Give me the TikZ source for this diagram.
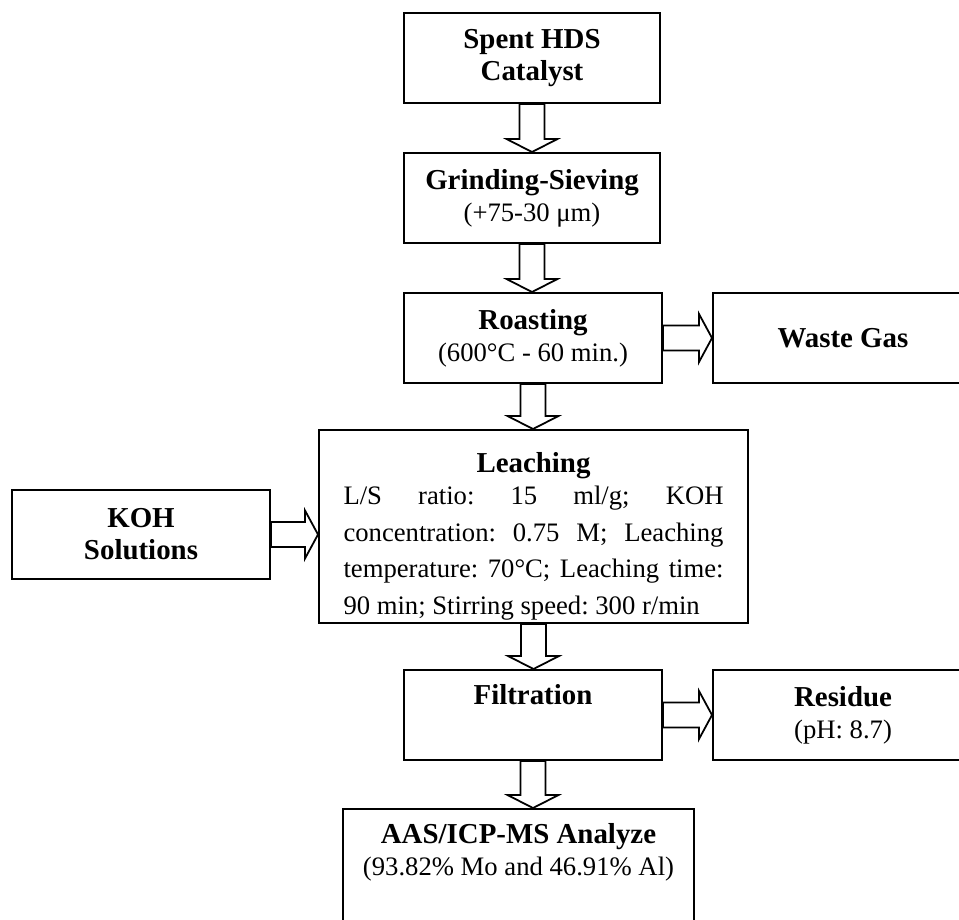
\documentclass[tikz,border=0pt]{standalone}
\usepackage{fontspec}
\setmainfont{Liberation Serif}
\usepackage{tikz}
\usetikzlibrary{calc}

\newcommand{\boxtitle}[1]{{\fontsize{13}{15}\selectfont\bfseries #1}}
\tolerance=10000
\hbadness=10000

\begin{document}
\frenchspacing
\begin{tikzpicture}[x=0.45pt,y=-0.45pt,
    stage/.style={draw,line width=0.9pt,align=center,inner sep=2pt,
        font=\fontsize{12}{14.4}\selectfont},
    blockarrow/.style={draw,line width=0.8pt,line join=miter}]

        \useasboundingbox (0,0) rectangle (959,919);
        \clip (0,0) rectangle (959,919);

        % ------------------------------------------------ main column
        \node[stage,minimum width=115.2pt,minimum height=40.5pt] (cat) at (532,58)
            {\boxtitle{Spent HDS}\\ \boxtitle{Catalyst}};
        \node[stage,minimum width=115.2pt,minimum height=40.5pt] (grind) at (532,198)
            {\boxtitle{Grinding-Sieving}\\ (+75-30 μm)};
        \node[stage,minimum width=116.1pt,minimum height=40.5pt] (roast) at (533,338)
            {\boxtitle{Roasting}\\ (600°C - 60 min.)};
        \node[stage,minimum width=193.05pt,minimum height=86.85pt,inner ysep=0pt] (leach) at (533.5,526.5)
            {\rule{0pt}{17.8pt}\boxtitle{Leaching}\\
             \parbox[t]{171pt}{\fontsize{12}{16.5}\selectfont
             L/S ratio: 15 ml/g; KOH\linebreak
             concentration: 0.75 M; Leaching\linebreak
             temperature: 70°C; Leaching time:\linebreak
             90 min; Stirring speed: 300 r/min}};
        \node[stage,minimum width=116.1pt,minimum height=40.5pt] (filt) at (533,715)
            {\boxtitle{Filtration}\\ \strut};
        \node[stage,anchor=north,minimum width=157.95pt,inner ysep=6.5pt] (aas) at (518.5,808)
            {\boxtitle{AAS/ICP-MS Analyze}\\ (93.82\% Mo and 46.91\% Al)\\ \strut\\ \strut};

        % ------------------------------------------------ side boxes
        \node[stage,minimum width=117pt,minimum height=40.5pt] (gas) at (843,338)
            {\boxtitle{Waste Gas}};
        \node[stage,minimum width=116.1pt,minimum height=40.05pt] (koh) at (141,534.5)
            {\boxtitle{KOH}\\ \boxtitle{Solutions}};
        \node[stage,minimum width=117pt,minimum height=40.5pt] (res) at (843,715)
            {\boxtitle{Residue}\\ (pH: 8.7)};

        % ------------------------------------------------ hollow arrows, downwards
        \draw[blockarrow] ($(cat.south)+(-12.5,0)$) -- ($(cat.south |- grind.north)+(-12.5,-13)$) -- ++(-13,0)
            -- (cat.south |- grind.north) -- ++(25.5,-13) -- ++(-13,0) -- ($(cat.south)+(12.5,0)$) -- cycle;
        \draw[blockarrow] ($(grind.south)+(-12.5,0)$) -- ($(grind.south |- roast.north)+(-12.5,-13)$) -- ++(-13,0)
            -- (grind.south |- roast.north) -- ++(25.5,-13) -- ++(-13,0) -- ($(grind.south)+(12.5,0)$) -- cycle;
        \draw[blockarrow] ($(roast.south)+(-12.5,0)$) -- ($(roast.south |- leach.north)+(-12.5,-13)$) -- ++(-13,0)
            -- (roast.south |- leach.north) -- ++(25.5,-13) -- ++(-13,0) -- ($(roast.south)+(12.5,0)$) -- cycle;
        \draw[blockarrow] ($(leach.south)+(-12.5,0)$) -- ($(leach.south |- filt.north)+(-12.5,-13)$) -- ++(-13,0)
            -- (leach.south |- filt.north) -- ++(25.5,-13) -- ++(-13,0) -- ($(leach.south)+(12.5,0)$) -- cycle;
        \draw[blockarrow] ($(filt.south)+(-12.5,0)$) -- ($(filt.south |- aas.north)+(-12.5,-13)$) -- ++(-13,0)
            -- (filt.south |- aas.north) -- ++(25.5,-13) -- ++(-13,0) -- ($(filt.south)+(12.5,0)$) -- cycle;

        % ------------------------------------------------ hollow arrows, sideways
        \draw[blockarrow] ($(roast.east)+(0,-12.5)$) -- ($(roast.east -| gas.west)+(-13,-12.5)$) -- ++(0,-11.5)
            -- (roast.east -| gas.west) -- ++(-13,24) -- ++(0,-11.5) -- ($(roast.east)+(0,12.5)$) -- cycle;
        \draw[blockarrow] ($(koh.east)+(0,-12.5)$) -- ($(koh.east -| leach.west)+(-13,-12.5)$) -- ++(0,-11.5)
            -- (koh.east -| leach.west) -- ++(-13,24) -- ++(0,-11.5) -- ($(koh.east)+(0,12.5)$) -- cycle;
        \draw[blockarrow] ($(filt.east)+(0,-12.5)$) -- ($(filt.east -| res.west)+(-13,-12.5)$) -- ++(0,-11.5)
            -- (filt.east -| res.west) -- ++(-13,24) -- ++(0,-11.5) -- ($(filt.east)+(0,12.5)$) -- cycle;

\end{tikzpicture}
\end{document}
